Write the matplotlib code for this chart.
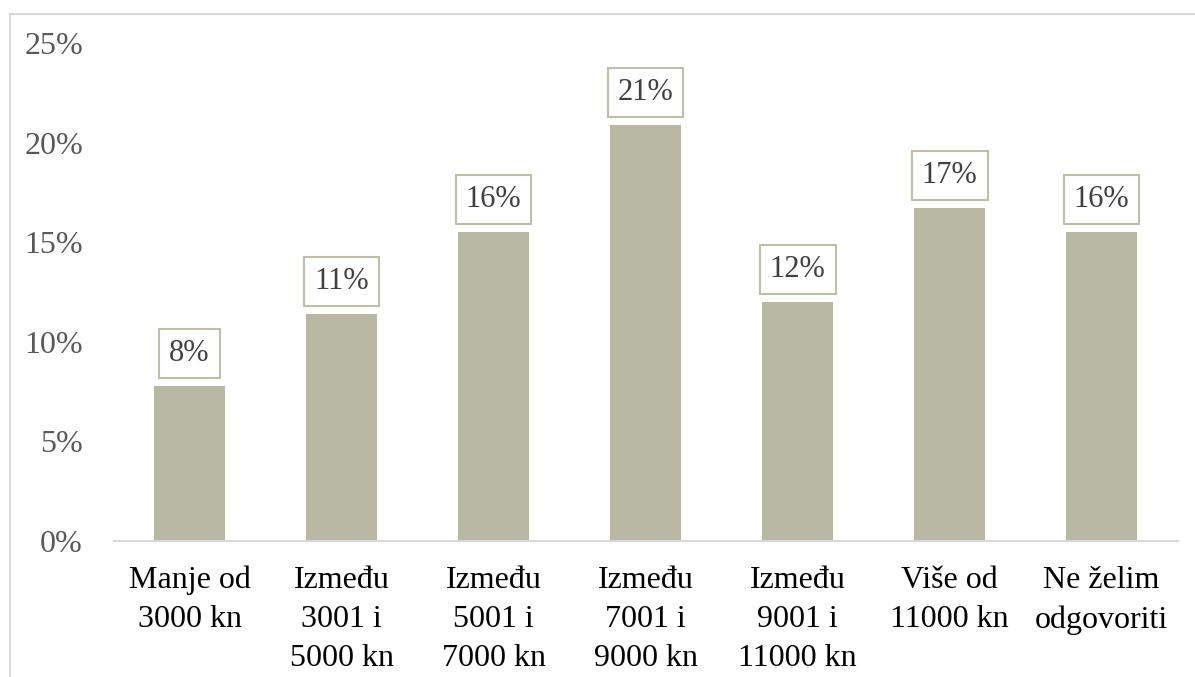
import matplotlib
matplotlib.use("Agg")
import matplotlib.pyplot as plt
from matplotlib.lines import Line2D
from matplotlib.ticker import FuncFormatter

# data
categories = ["Manje od\n3000 kn", "Između\n3001 i\n5000 kn", "Između\n5001 i\n7000 kn",
              "Između\n7001 i\n9000 kn", "Između\n9001 i\n11000 kn", "Više od\n11000 kn",
              "Ne želim\nodgovoriti"]
values = [0.078, 0.114, 0.155, 0.209, 0.120, 0.167, 0.155]
labels = ["8%", "11%", "16%", "21%", "12%", "17%", "16%"]
yticks = [0, 0.05, 0.10, 0.15, 0.20, 0.25]

bar_color = "#B8B8A4"
plt.rcParams['font.family'] = ['Liberation Serif', 'DejaVu Serif']

fig = plt.figure(figsize=(11.95, 6.77), dpi=100)
ax = fig.add_axes([0.095, 0.2009, 0.8904, 0.7356])

x = list(range(len(categories)))
ax.bar(x, values, width=0.47, color=bar_color)

for xi, v, lab in zip(x, values, labels):
    ax.annotate(lab, (xi, v), xytext=(0, 18), textcoords="offset pixels",
                ha="center", va="bottom", fontsize=22, color="#404040",
                bbox=dict(boxstyle="square,pad=0.33", fc="white", ec="#BEBEAA", lw=1.5))

ax.set_xlim(-0.5, len(categories) - 0.5)
ax.set_ylim(0, 0.25)
ax.set_yticks(yticks)
ax.yaxis.set_major_formatter(FuncFormatter(lambda v, p: f"{v*100:.0f}%"))
ax.set_xticks(x)
ax.set_xticklabels(categories, fontsize=23, color="black", linespacing=1.45)
ax.tick_params(axis="y", length=0, pad=22, labelsize=23, labelcolor="#595959")
ax.tick_params(axis="x", length=0, pad=18)

for s in ["top", "right", "left"]:
    ax.spines[s].set_visible(False)
ax.spines["bottom"].set_color("#D9D9D9")
ax.spines["bottom"].set_linewidth(1.5)

# outer frame (clipped at right and bottom)
W, H = 1195, 677
fig.add_artist(Line2D([10 / W, 1.0], [1 - 14 / H, 1 - 14 / H], color="#D9D9D9", lw=1.5))
fig.add_artist(Line2D([10 / W, 10 / W], [0, 1 - 14 / H], color="#D9D9D9", lw=1.5))

fig.savefig("out.png", dpi=100)
